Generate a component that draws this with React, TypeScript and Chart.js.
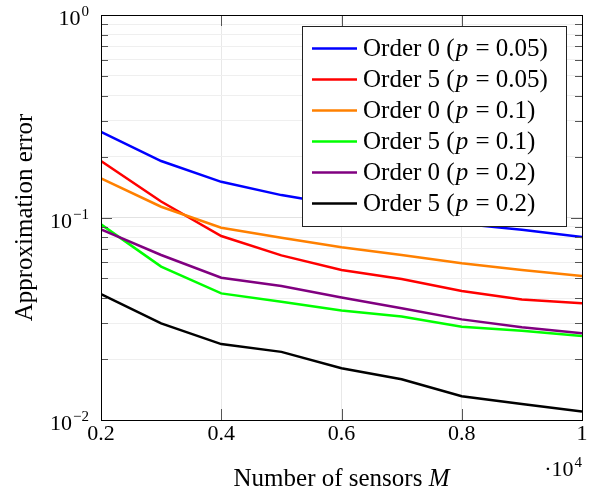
import React, { useEffect, useRef } from 'react';
import { Chart, registerables } from 'chart.js';

Chart.register(...registerables);

// ---- data ----
const sensorCounts = [2000, 3000, 4000, 5000, 6000, 7000, 8000, 9000, 10000];
const order0p005 = [0.265, 0.19, 0.15, 0.129, 0.115, 0.103, 0.093, 0.087, 0.08];
const order5p005 = [0.19, 0.12, 0.081, 0.065, 0.055, 0.0497, 0.0434, 0.0394, 0.0377];
const order0p01 = [0.156, 0.113, 0.089, 0.0794, 0.0713, 0.0653, 0.0594, 0.055, 0.0514];
const order5p01 = [0.0925, 0.0572, 0.0422, 0.0384, 0.0347, 0.0324, 0.0289, 0.0276, 0.026];
const order0p02 = [0.0874, 0.0653, 0.0504, 0.0459, 0.0403, 0.0356, 0.0314, 0.0287, 0.0268];
const order5p02 = [0.0418, 0.03, 0.0237, 0.0217, 0.018, 0.0159, 0.0131, 0.012, 0.011];

const seriesValues = [order0p005, order5p005, order0p01, order5p01, order0p02, order5p02];
const seriesOrders = ['Order 0', 'Order 5', 'Order 0', 'Order 5', 'Order 0', 'Order 5'];
const seriesP = ['0.05', '0.05', '0.1', '0.1', '0.2', '0.2'];
const seriesColors = ['#0000ff', '#ff0000', '#ff8000', '#00ff00', '#800080', '#000000'];

const xTickValues = [2000, 4000, 6000, 8000, 10000];
const xTickLabels = ['0.2', '0.4', '0.6', '0.8', '1'];
const yDecades = [0.01, 0.1, 1];
const yDecadeExponents = ['\u22122', '\u22121', '0'];
const yMinorMultipliers = [2, 3, 4, 5, 6, 7, 8, 9];

const xTitle = 'Number of sensors ';
const xTitleVar = 'M';
const yTitle = 'Approximation error';

const SERIF = '"Liberation Serif", "Times New Roman", serif';

function isDecade(v: number) {
  const l = Math.log10(v);
  return Math.abs(l - Math.round(l)) < 1e-6;
}

const overlayPlugin = {
  id: 'overlay',
  afterDraw(chart: any) {
    const ctx = chart.ctx as CanvasRenderingContext2D;
    const { left, right, top, bottom } = chart.chartArea;
    const xs = chart.scales.x;
    const ys = chart.scales.y;
    ctx.save();

    // ticks
    ctx.strokeStyle = '#555';
    ctx.lineWidth = 1;
    ys.ticks.forEach((t: any) => {
      const y = Math.round(ys.getPixelForValue(t.value)) + 0.5;
      const len = isDecade(t.value) ? 11 : 7;
      ctx.beginPath();
      ctx.moveTo(left, y);
      ctx.lineTo(left + len, y);
      ctx.moveTo(right, y);
      ctx.lineTo(right - len, y);
      ctx.stroke();
    });
    xs.ticks.forEach((t: any) => {
      const x = Math.round(xs.getPixelForValue(t.value)) + 0.5;
      ctx.beginPath();
      ctx.moveTo(x, bottom);
      ctx.lineTo(x, bottom - 11);
      ctx.moveTo(x, top);
      ctx.lineTo(x, top + 11);
      ctx.stroke();
    });

    // frame
    ctx.strokeStyle = '#000';
    ctx.lineWidth = 1;
    ctx.strokeRect(Math.round(left) + 0.5, Math.round(top) + 0.5, Math.round(right - left), Math.round(bottom - top));

    ctx.fillStyle = '#000';
    // x tick labels
    ctx.font = `22px ${SERIF}`;
    ctx.textAlign = 'center';
    ctx.textBaseline = 'alphabetic';
    xTickValues.forEach((v, i) => {
      ctx.fillText(xTickLabels[i], xs.getPixelForValue(v), bottom + 20);
    });

    // y tick labels
    yDecades.forEach((v, i) => {
      const y = ys.getPixelForValue(v);
      ctx.textAlign = 'right';
      ctx.font = `15px ${SERIF}`;
      const supW = ctx.measureText(yDecadeExponents[i]).width;
      const xr = left - 12;
      ctx.fillText(yDecadeExponents[i], xr, y + 1);
      ctx.font = `22px ${SERIF}`;
      ctx.fillText('10', xr - supW - 1, y + 10);
    });

    // x scale multiplier
    ctx.textAlign = 'right';
    ctx.font = `15px ${SERIF}`;
    const s4 = ctx.measureText('4').width;
    ctx.fillText('4', right, bottom + 47);
    ctx.font = `22px ${SERIF}`;
    ctx.fillText('\u00b710', right - s4 - 1, bottom + 56);

    // x title
    ctx.font = `25px ${SERIF}`;
    const w1 = ctx.measureText(xTitle).width;
    ctx.font = `italic 25px ${SERIF}`;
    const w2 = ctx.measureText(xTitleVar).width;
    const cx = (left + right) / 2;
    const sx = cx - (w1 + w2) / 2;
    ctx.textAlign = 'left';
    ctx.font = `25px ${SERIF}`;
    ctx.fillText(xTitle, sx, bottom + 66);
    ctx.font = `italic 25px ${SERIF}`;
    ctx.fillText(xTitleVar, sx + w1, bottom + 66);

    // y title
    ctx.save();
    ctx.translate(25, (top + bottom) / 2);
    ctx.rotate(-Math.PI / 2);
    ctx.textAlign = 'center';
    ctx.textBaseline = 'middle';
    ctx.font = `25px ${SERIF}`;
    ctx.fillText(yTitle, 0, 0);
    ctx.restore();

    // legend
    const lx0 = 302.5, ly0 = 26.5, lx1 = 566.5, ly1 = 226.5;
    ctx.fillStyle = '#fff';
    ctx.fillRect(lx0, ly0, lx1 - lx0, ly1 - ly0);
    ctx.strokeStyle = '#222';
    ctx.lineWidth = 1;
    ctx.strokeRect(lx0, ly0, lx1 - lx0, ly1 - ly0);
    seriesOrders.forEach((name, i) => {
      const ry = 48.5 + 31 * i;
      ctx.strokeStyle = seriesColors[i];
      ctx.lineWidth = 2.5;
      ctx.beginPath();
      ctx.moveTo(312, ry);
      ctx.lineTo(357, ry);
      ctx.stroke();
      ctx.fillStyle = '#000';
      ctx.textAlign = 'left';
      ctx.textBaseline = 'alphabetic';
      let tx = 363;
      const base = ry + 7;
      const parts: [string, boolean][] = [
        [name + ' (', false],
        ['p', true],
        [' = ' + seriesP[i] + ')', false],
      ];
      parts.forEach(([txt, it]) => {
        ctx.font = `${it ? 'italic ' : ''}25px ${SERIF}`;
        ctx.fillText(txt, tx, base);
        tx += ctx.measureText(txt).width + 1;
      });
    });

    ctx.restore();
  },
};

export default function App() {
  const canvasRef = useRef<HTMLCanvasElement | null>(null);

  useEffect(() => {
    document.body.style.margin = '0';
    const canvas = canvasRef.current;
    if (!canvas) return;
    const datasets = seriesValues.map((vals, i) => ({
      label: `${seriesOrders[i]} (p = ${seriesP[i]})`,
      data: sensorCounts.map((x, j) => ({ x, y: vals[j] })),
      borderColor: seriesColors[i],
      backgroundColor: seriesColors[i],
      borderWidth: 2.5,
      pointRadius: 0,
      tension: 0,
      fill: false,
      order: seriesValues.length - 1 - i,
    }));
    const chart = new Chart(canvas, {
      type: 'line',
      data: { datasets },
      options: {
        animation: false,
        responsive: false,
        devicePixelRatio: 1,
        layout: { padding: { left: 101, right: 19, top: 15, bottom: 75 } },
        plugins: { legend: { display: false }, tooltip: { enabled: false } },
        scales: {
          x: {
            type: 'linear',
            min: 2000,
            max: 10000,
            afterBuildTicks: (scale: any) => {
              scale.ticks = xTickValues.map((v) => ({ value: v }));
            },
            afterFit: (scale: any) => {
              scale.height = 0;
            },
            ticks: { display: false },
            grid: { color: '#e8e8e8', lineWidth: 1, drawTicks: false },
            border: { display: false },
          },
          y: {
            type: 'logarithmic',
            min: 0.01,
            max: 1,
            afterBuildTicks: (scale: any) => {
              const ticks: { value: number }[] = [];
              yDecades.forEach((d, k) => {
                ticks.push({ value: d });
                if (k < yDecades.length - 1) {
                  yMinorMultipliers.forEach((m) => ticks.push({ value: +(d * m).toPrecision(6) }));
                }
              });
              scale.ticks = ticks;
            },
            afterFit: (scale: any) => {
              scale.width = 0;
            },
            ticks: { display: false },
            grid: {
              color: (c: any) => (c.tick && isDecade(c.tick.value) ? '#e2e2e2' : '#efefef'),
              lineWidth: 1,
              drawTicks: false,
            },
            border: { display: false },
          },
        },
      },
      plugins: [overlayPlugin],
    } as any);
    return () => chart.destroy();
  }, []);

  return (
    <div style={{ width: 601, height: 495 }}>
      <canvas ref={canvasRef} width={601} height={495} style={{ display: 'block' }} />
    </div>
  );
}
